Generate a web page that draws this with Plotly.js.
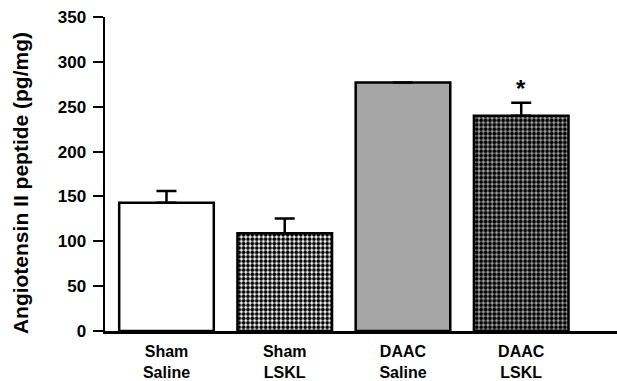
<!DOCTYPE html>
<html>
<head>
<meta charset="utf-8">
<script src="https://cdn.plot.ly/plotly-3.0.1.min.js"></script>
<style>html,body{margin:0;padding:0;background:#fff;}#chart{width:617px;height:381px;}</style>
</head>
<body>
<div id="chart"></div>
<script>
var categories = ["Sham<br>Saline", "Sham<br>LSKL", "DAAC<br>Saline", "DAAC<br>LSKL"];
var values = [143, 109, 277, 240];
var errors = [13, 16.5, null, 14.5];
var yTicks = [0, 50, 100, 150, 200, 250, 300, 350];
var significance = ["", "", "", "*"];
var yTitle = "Angiotensin II peptide (pg/mg)";

var font = {family: "Arial, 'Liberation Sans', sans-serif", color: "#000", weight: "bold"};

var bgColors = ["#ffffff", "#ffffff", "#a6a6a6", "#a6a6a6"];
var fgColors = ["#ffffff", "#000000", "#a6a6a6", "#000000"];

var trace = {
  type: "bar",
  x: categories,
  y: values,
  error_y: {type: "data", symmetric: false, array: errors, arrayminus: errors.map(function(){return 0;}),
            color: "#000", thickness: 2.5, width: 10},
  marker: {
    color: "#ffffff",
    line: {color: "#000", width: 2.5},
    pattern: {shape: ".", fgcolor: fgColors, bgcolor: bgColors, size: 4.4, solidity: 0.6, fillmode: "replace"}
  },
  hoverinfo: "none"
};

var annotations = [];
significance.forEach(function(s, i){
  if (s) annotations.push({
    x: categories[i], y: values[i] + (errors[i] || 0), xref: "x", yref: "y",
    text: s, showarrow: false, yanchor: "bottom", yshift: -1,
    font: Object.assign({}, font, {size: 24})
  });
});
annotations.push({
  xref: "paper", yref: "paper", x: -0.166, y: 0.471, xanchor: "center", yanchor: "middle",
  text: yTitle, textangle: -90, showarrow: false,
  font: Object.assign({}, font, {size: 21})
});

var layout = {
  width: 617, height: 381,
  margin: {l: 105, r: 0, t: 17, b: 50, pad: 0},
  paper_bgcolor: "#fff", plot_bgcolor: "#fff",
  showlegend: false,
  bargap: 0.2,
  xaxis: {
    type: "category", range: [-0.52, 3.81],
    showline: true, linecolor: "#000", linewidth: 2.5,
    ticks: "", showgrid: false, zeroline: false,
    tickfont: Object.assign({}, font, {size: 16}),
    ticklabelstandoff: 4
  },
  yaxis: {
    range: [0, 350], tickvals: yTicks, ticktext: yTicks.map(String),
    showline: true, linecolor: "#000", linewidth: 2.5,
    ticks: "outside", ticklen: 10, tickwidth: 2, tickcolor: "#000",
    showgrid: false, zeroline: false,
    tickfont: Object.assign({}, font, {size: 17}),
    ticklabelstandoff: 3
  },
  annotations: annotations
};

Plotly.newPlot("chart", [trace], layout, {displayModeBar: false, staticPlot: true});
</script>
</body>
</html>
